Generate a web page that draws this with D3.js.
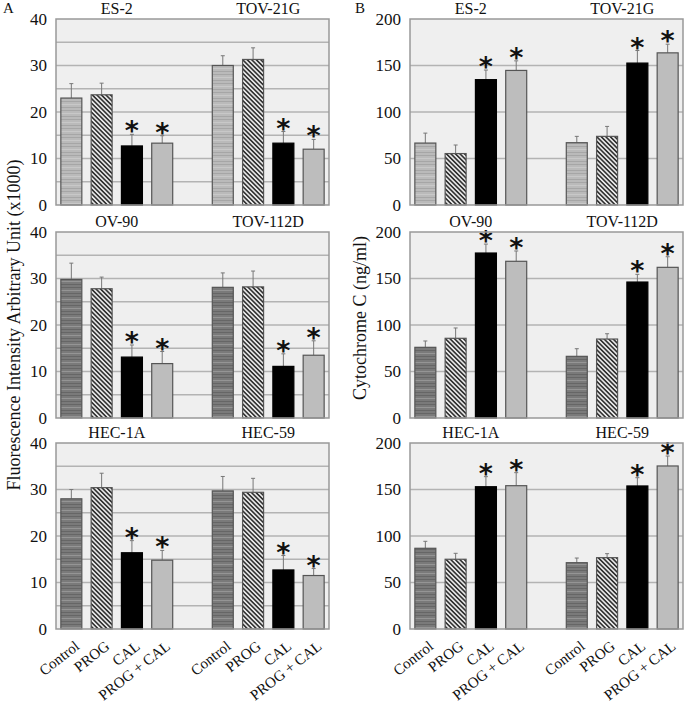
<!DOCTYPE html>
<html lang="en">
<head>
    <meta charset="UTF-8">
    <title>Fluorescence and Cytochrome C</title>
    <style>
        body {
            margin: 0;
            background: #fff;
        }
        text {
            font-family: "Liberation Serif", "Times New Roman", serif;
            fill: #111;
        }
    </style>
</head>

<body>
    <div id="chart"></div>

    <script src="https://d3js.org/d3.v7.min.js"></script>
    <script>
        // cell lines per row (two groups each)
        const cellLines = [
            ['ES-2', 'TOV-21G'],
            ['OV-90', 'TOV-112D'],
            ['HEC-1A', 'HEC-59']
        ]
        const treatments = ['Control', 'PROG', 'CAL', 'PROG + CAL']
        const significant = [false, false, true, true]

        // panel A: fluorescence (x1000), order: ES-2, TOV-21G, OV-90, TOV-112D, HEC-1A, HEC-59
        const fluorMean = [
            [23.0, 23.7, 12.7, 13.3],
            [30.0, 31.3, 13.3, 12.0],
            [29.8, 27.8, 13.1, 11.7],
            [28.1, 28.2, 11.1, 13.5],
            [28.0, 30.4, 16.4, 14.8],
            [29.7, 29.4, 12.7, 11.5]
        ]
        const fluorErr = [
            [3.1, 2.5, 2.5, 1.6],
            [2.1, 2.5, 2.5, 2.1],
            [3.5, 2.5, 2.6, 2.6],
            [3.1, 3.4, 2.7, 3.1],
            [2.0, 3.1, 2.6, 2.1],
            [3.1, 3.0, 3.1, 1.5]
        ]

        // panel B: cytochrome C (ng/ml)
        const cytoMean = [
            [66.6, 55.3, 134.8, 144.7],
            [67.0, 73.8, 152.6, 163.6],
            [76.0, 85.7, 177.4, 168.5],
            [66.3, 84.9, 146.2, 162.0],
            [86.8, 75.0, 153.0, 154.1],
            [71.3, 76.7, 153.8, 175.3]
        ]
        const cytoErr = [
            [10.7, 9.2, 10.3, 10.3],
            [6.8, 10.7, 13.5, 9.3],
            [6.8, 11.1, 9.6, 11.1],
            [8.2, 5.7, 8.3, 11.4],
            [7.5, 6.4, 10.8, 14.0],
            [5.0, 4.3, 8.9, 10.7]
        ]

        const fluorTicks = [0, 10, 20, 30, 40]
        const cytoTicks = [0, 50, 100, 150, 200]

        const width = 685
        const height = 708
        const rowTops = [19, 232, 443]
        const plotH = 186
        const plotW = 273

        const svg = d3.select('#chart')
            .append('svg')
            .attr('width', width)
            .attr('height', height)

        const defs = svg.append('defs')

        function hPattern(id, bg, line, light) {
            const p = defs.append('pattern')
                .attr('id', id)
                .attr('patternUnits', 'userSpaceOnUse')
                .attr('width', 20)
                .attr('height', 9)
            p.append('rect').attr('width', 20).attr('height', 9).attr('fill', bg)
            p.append('rect').attr('y', 1).attr('width', 20).attr('height', 1).attr('fill', line)
            p.append('rect').attr('y', 4).attr('width', 20).attr('height', 1).attr('fill', light)
            p.append('rect').attr('y', 7).attr('width', 20).attr('height', 1).attr('fill', line)
        }
        hPattern('ctrl-light', '#bababa', '#a6a6a6', '#c8c8c8')
        hPattern('ctrl-dark', '#7a7a7a', '#666', '#959595')

        const hatch = defs.append('pattern')
            .attr('id', 'prog')
            .attr('patternUnits', 'userSpaceOnUse')
            .attr('width', 3.2)
            .attr('height', 10)
            .attr('patternTransform', 'rotate(-45)')
        hatch.append('rect').attr('width', 3.2).attr('height', 10).attr('fill', '#e6e6e6')
        hatch.append('rect').attr('width', 1.6).attr('height', 10).attr('fill', '#333')

        function barFill(row, i) {
            if (i === 0) return row === 0 ? 'url(#ctrl-light)' : 'url(#ctrl-dark)'
            if (i === 1) return 'url(#prog)'
            if (i === 2) return '#000'
            return '#bdbdbd'
        }

        function drawPanel(left, row, yMax, yTicks, gridStep, means, errs, showX) {
            const top = rowTops[row]
            const g = svg.append('g').attr('transform', `translate(${left}, ${top})`)

            const xScale = d3.scaleBand()
                .domain(d3.range(9))
                .range([0, plotW])
                .paddingInner(0.307)
                .paddingOuter(0.16)
            const yScale = d3.scaleLinear()
                .domain([0, yMax])
                .range([plotH, 0])

            g.append('rect')
                .attr('width', plotW)
                .attr('height', plotH)
                .attr('fill', '#efefef')

            g.append('g')
                .selectAll('line')
                .data(d3.range(gridStep, yMax, gridStep))
                .join('line')
                .attr('x1', 0)
                .attr('x2', plotW)
                .attr('y1', d => yScale(d))
                .attr('y2', d => yScale(d))
                .attr('stroke', '#b3b3b3')
                .attr('stroke-width', 1.4)

            const yAxis = d3.axisLeft(yScale).tickValues(yTicks).tickSize(0).tickPadding(9)
            g.append('g')
                .call(yAxis)
                .call(a => a.select('.domain').remove())
                .selectAll('text')
                .style('font-size', '17px')
                .style('font-family', '"Liberation Serif", serif')
                .attr('fill', '#111')

            for (let k = 0; k < 2; k++) {
                const idx = row * 2 + k
                const items = treatments.map((t, i) => ({
                    i,
                    slot: k * 5 + i,
                    v: means[idx][i],
                    e: errs[idx][i],
                    sig: significant[i]
                }))
                const grp = g.append('g')

                grp.selectAll('line.err')
                    .data(items)
                    .join('line')
                    .attr('class', 'err')
                    .attr('x1', d => xScale(d.slot) + xScale.bandwidth() / 2)
                    .attr('x2', d => xScale(d.slot) + xScale.bandwidth() / 2)
                    .attr('y1', d => yScale(d.v))
                    .attr('y2', d => yScale(d.v + d.e))
                    .attr('stroke', '#777')
                    .attr('stroke-width', 1)
                grp.selectAll('line.cap')
                    .data(items)
                    .join('line')
                    .attr('class', 'cap')
                    .attr('x1', d => xScale(d.slot) + xScale.bandwidth() / 2 - 2)
                    .attr('x2', d => xScale(d.slot) + xScale.bandwidth() / 2 + 2)
                    .attr('y1', d => yScale(d.v + d.e))
                    .attr('y2', d => yScale(d.v + d.e))
                    .attr('stroke', '#777')
                    .attr('stroke-width', 1)

                grp.selectAll('rect')
                    .data(items)
                    .join('rect')
                    .attr('x', d => xScale(d.slot))
                    .attr('y', d => yScale(d.v))
                    .attr('width', xScale.bandwidth())
                    .attr('height', d => plotH - yScale(d.v))
                    .attr('fill', d => barFill(row, d.i))
                    .attr('stroke', d => d.i === 2 ? '#000' : '#555')
                    .attr('stroke-width', 1.2)

                grp.selectAll('text.star')
                    .data(items.filter(d => d.sig))
                    .join('text')
                    .attr('class', 'star')
                    .attr('x', d => xScale(d.slot) + xScale.bandwidth() / 2)
                    .attr('y', d => yScale(d.v + d.e) + 6)
                    .attr('text-anchor', 'middle')
                    .style('font-family', '"DejaVu Sans", sans-serif')
                    .style('font-weight', 'bold')
                    .style('font-size', '27px')
                    .text('*')

                const c0 = xScale(k * 5)
                const c1 = xScale(k * 5 + 3) + xScale.bandwidth()
                g.append('text')
                    .attr('x', (c0 + c1) / 2)
                    .attr('y', -5)
                    .attr('text-anchor', 'middle')
                    .style('font-size', '16px')
                    .text(cellLines[row][k])

                if (showX) {
                    grp.selectAll('text.xlab')
                        .data(items)
                        .join('text')
                        .attr('class', 'xlab')
                        .attr('text-anchor', 'end')
                        .attr('transform', d => `translate(${xScale(d.slot) + xScale.bandwidth() / 2 + 9}, ${plotH + 19}) rotate(-38)`)
                        .style('font-size', '15px')
                        .text(d => treatments[d.i])
                }
            }

            g.append('rect')
                .attr('width', plotW)
                .attr('height', plotH)
                .attr('fill', 'none')
                .attr('stroke', '#999')
                .attr('stroke-width', 1.5)
        }

        for (let r = 0; r < 3; r++) {
            drawPanel(56, r, 40, fluorTicks, 5, fluorMean, fluorErr, r === 2)
            drawPanel(410, r, 200, cytoTicks, 50, cytoMean, cytoErr, r === 2)
        }

        svg.append('text').attr('x', 3).attr('y', 13).style('font-size', '15px').text('A')
        svg.append('text').attr('x', 355).attr('y', 13).style('font-size', '15px').text('B')

        svg.append('text')
            .attr('transform', 'translate(20, 325) rotate(-90)')
            .attr('text-anchor', 'middle')
            .style('font-size', '18px')
            .text('Fluorescence Intensity Arbitrary Unit (x1000)')
        svg.append('text')
            .attr('transform', 'translate(366, 318) rotate(-90)')
            .attr('text-anchor', 'middle')
            .style('font-size', '18px')
            .text('Cytochrome C (ng/ml)')
    </script>
</body>
</html>
